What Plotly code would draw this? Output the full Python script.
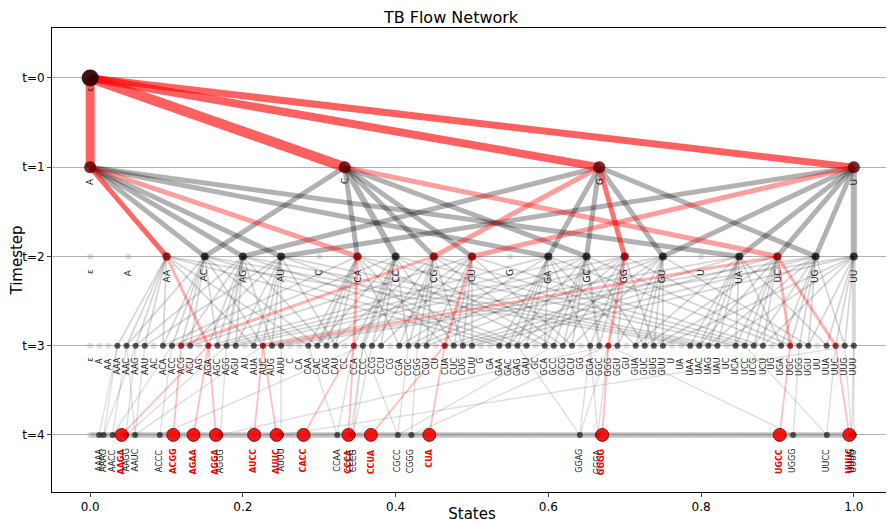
import itertools
import plotly.graph_objects as go

# ---------------- data ----------------
ALPHABET = ["A", "C", "G", "U"]
Y_TICK_VALUES = [0, 1, 2, 3, 4]
Y_TICK_LABELS = ["t=0", "t=1", "t=2", "t=3", "t=4"]
X_TICK_VALUES = [0.0, 0.2, 0.4, 0.6, 0.8, 1.0]
X_TICK_LABELS = ["0.0", "0.2", "0.4", "0.6", "0.8", "1.0"]


def states_up_to(n):
    out = [""]
    for length in range(1, n + 1):
        out += ["".join(p) for p in itertools.product(ALPHABET, repeat=length)]
    return sorted(out)


LAYER_STATES = {
    0: [""],
    1: ["A", "C", "G", "U"],
    2: states_up_to(2),
    3: states_up_to(3),
    4: states_up_to(4),
}

# t=0 -> t=1 flows (all sampled)
FLOW_01 = [("", "A", 9), ("", "C", 10), ("", "G", 8), ("", "U", 7)]

# t=1 -> t=2 gray flows
FLOW_12 = [
    ("A", "AC", 5), ("A", "AG", 5), ("A", "AU", 5), ("A", "GA", 5), ("A", "UA", 5),
    ("C", "AC", 5), ("C", "CA", 5), ("C", "CC", 6), ("C", "CG", 5), ("C", "CU", 5), ("C", "GC", 5),
    ("G", "AG", 5), ("G", "GA", 5), ("G", "GC", 5), ("G", "GU", 5), ("G", "UG", 5),
    ("U", "AU", 5), ("U", "GU", 5), ("U", "UA", 5), ("U", "UC", 5), ("U", "UG", 5), ("U", "UU", 6),
]

# t=2 -> t=3: each two-letter state grows by inserting one letter anywhere
PARENTS_23 = ["AA", "AC", "AG", "AU", "CA", "CC", "CG", "CU",
              "GA", "GC", "GG", "GU", "UA", "UC", "UG", "UU"]
THICK_23 = {("CA", "CCA"): 4, ("CC", "CCC"): 4, ("GG", "GGG"): 4, ("UU", "UUU"): 4,
            ("CA", "CAC"): 3, ("AG", "AGG"): 3, ("GC", "GGC"): 3}
WIDTH_23 = 1.8

# t=4 states reached by flow (parents: any one-letter deletion)
VISITED_4 = ["AAAA", "AAAG", "AACC", "AAGG", "AAUC", "ACCC", "AGGG", "AUUU",
             "CCAA", "CCCC", "CCCG", "CGCC", "CGGG", "GGAG", "GGGA", "UGGG",
             "UUCC", "UUUG", "UUUU"]
WIDTH_34 = 1.4

# sampled trajectories (red)
SAMPLED_PATHS = [
    ["", "A", "AA", "AGA", "AAGA"],
    ["", "G", "CG", "ACG", "ACGG"],
    ["", "A", "AA", "AGA", "AGAA"],
    ["", "A", "AA", "AGA", "AGGA"],
    ["", "C", "UC", "AUC", "AUCC"],
    ["", "C", "UC", "AUC", "AUUC"],
    ["", "A", "CA", "CCA", "CACC"],
    ["", "A", "CA", "CCA", "CCCA"],
    ["", "U", "CU", "CUA", "CCUA"],
    ["", "U", "CU", "CUA", "CUA"],
    ["", "G", "GG", "GGG", "GGGG"],
    ["", "C", "UC", "UGC", "UGCC"],
    ["", "C", "UC", "UUC", "UUUC"],
]
RED_WIDTH = {1: 5, 2: 3, 3: 1.8}
RED_ALPHA = {1: 0.38, 2: 0.3, 3: 0.25}
STRONG_RED = {(1, "A", "AA"): 0.6, (1, "G", "GG"): 0.55}

# ---------------- helpers ----------------
def xpos(t, s):
    states = LAYER_STATES[t]
    n = len(states)
    return 0.0 if n == 1 else states.index(s) / (n - 1)


def label(s):
    return "ε" if s == "" else s


def insert_children(s):
    out = []
    for i in range(len(s) + 1):
        for c in ALPHABET:
            ch = s[:i] + c + s[i:]
            if ch not in out:
                out.append(ch)
    return out


def deletion_parents(s):
    out = []
    for i in range(len(s)):
        p = s[:i] + s[i + 1:]
        if p not in out:
            out.append(p)
    return out


fig = go.Figure()


def add_edge(t, a, b, width, color):
    fig.add_trace(go.Scatter(
        x=[xpos(t, a), xpos(t + 1, b)], y=[t, t + 1], mode="lines",
        line=dict(color=color, width=width), hoverinfo="skip", showlegend=False))


red_edges = set()
for p in SAMPLED_PATHS:
    for t in range(4):
        red_edges.add((t, p[t], p[t + 1]))

# gray edges
for a, b, w in FLOW_12:
    add_edge(1, a, b, w, "rgba(0,0,0,0.3)")

edges23 = []
for a in PARENTS_23:
    for b in insert_children(a):
        if (2, a, b) in red_edges:
            continue
        edges23.append((a, b))
        add_edge(2, a, b, THICK_23.get((a, b), WIDTH_23), "rgba(0,0,0,0.16)")

edges34 = []
for b in VISITED_4:
    for a in deletion_parents(b):
        edges34.append((a, b))
        add_edge(3, a, b, WIDTH_34, "rgba(0,0,0,0.13)")

# red edges
for a, b, w in FLOW_01:
    add_edge(0, a, b, w, "rgba(255,0,0,0.62)")
for t, a, b in sorted(red_edges):
    if t == 0:
        continue
    alpha = STRONG_RED.get((t, a, b), RED_ALPHA[t])
    add_edge(t, a, b, RED_WIDTH[t], f"rgba(255,0,0,{alpha})")

# background nodes
for t in range(5):
    st = LAYER_STATES[t]
    fig.add_trace(go.Scatter(
        x=[xpos(t, s) for s in st], y=[t] * len(st), mode="markers",
        marker=dict(size=6, color="rgba(128,128,128,0.25)", line=dict(width=0)),
        hoverinfo="skip", showlegend=False))

# visited nodes
visited = {t: set() for t in range(5)}
visited[0].add("")
for a, b, w in FLOW_12:
    visited[1].add(a); visited[2].add(b)
for a, b in edges23:
    visited[3].add(b)
for a, b in edges34:
    visited[4].add(b)
for t, a, b in red_edges:
    visited[t].add(a); visited[t + 1].add(b)

terminals = {p[-1] for p in SAMPLED_PATHS}
red_nodes = {t: {p[t] for p in SAMPLED_PATHS} for t in range(5)}

size_by_t = {0: 17, 1: 12, 2: 8, 3: 6, 4: 6}
node_alpha = {0: 0.9, 1: 0.75, 2: 0.7, 3: 0.6, 4: 0.6}
red_alpha_n = {0: 0.15, 1: 0.3, 2: 0.45, 3: 0.45}
for t in range(5):
    st = [s for s in LAYER_STATES[t] if s in visited[t] and not (t == 4 and s in terminals)]
    fig.add_trace(go.Scatter(
        x=[xpos(t, s) for s in st], y=[t] * len(st), mode="markers",
        marker=dict(size=size_by_t[t], color=f"rgba(0,0,0,{node_alpha[t]})", line=dict(width=0)),
        hoverinfo="skip", showlegend=False))
    if t < 4:
        rs = [s for s in LAYER_STATES[t] if s in red_nodes[t]]
        fig.add_trace(go.Scatter(
            x=[xpos(t, s) for s in rs], y=[t] * len(rs), mode="markers",
            marker=dict(size=size_by_t[t], color=f"rgba(255,0,0,{red_alpha_n[t]})", line=dict(width=0)),
            hoverinfo="skip", showlegend=False))

term = [s for s in LAYER_STATES[4] if s in terminals]
fig.add_trace(go.Scatter(
    x=[xpos(4, s) for s in term], y=[4] * len(term), mode="markers",
    marker=dict(size=13, color="rgba(245,0,0,0.9)", line=dict(width=1, color="rgba(110,0,0,0.8)")),
    hoverinfo="skip", showlegend=False))

# labels
ann = []
label_font = {0: 9, 1: 9, 2: 9, 3: 8, 4: 8}
label_shift = {0: -7, 1: -9, 2: -11, 3: -10, 4: -12}
for t in range(5):
    for s in LAYER_STATES[t]:
        if t == 4 and s not in visited[4]:
            continue
        is_term = t == 4 and s in terminals
        txt = label(s)
        if is_term:
            txt = "<b>" + txt + "</b>"
        ann.append(dict(
            x=xpos(t, s), y=t, xref="x", yref="y", text=txt, showarrow=False,
            textangle=-90, xanchor="center", yanchor="top", yshift=label_shift[t],
            font=dict(size=label_font[t], color="red" if is_term else "#222",
                      family="DejaVu Sans")))

# The page body has an 8px margin, so the figure is sized to fit the window.
FIG_W, FIG_H = 886, 515
fig.update_layout(
    width=FIG_W, height=FIG_H,
    margin=dict(l=44, r=2, t=20, b=31, autoexpand=False),
    paper_bgcolor="white", plot_bgcolor="white",
    title=dict(text="TB Flow Network", x=0.5, xanchor="center",
               y=1 - 9 / FIG_H, yanchor="middle",
               font=dict(size=16, color="black", family="DejaVu Sans")),
    font=dict(family="DejaVu Sans", color="black"),
    annotations=ann,
    xaxis=dict(range=[-0.05, 1.05], tickvals=X_TICK_VALUES, ticktext=X_TICK_LABELS,
               showgrid=False, zeroline=False, showline=True, mirror=True, automargin=False,
               linecolor="black", linewidth=1, ticks="outside", ticklen=4,
               tickfont=dict(size=12), title=dict(text="States", font=dict(size=15), standoff=2)),
    yaxis=dict(range=[4.64, -0.56], tickvals=Y_TICK_VALUES, ticktext=Y_TICK_LABELS,
               showgrid=True, gridcolor="#b0b0b0", gridwidth=1, zeroline=False, automargin=False,
               showline=True, mirror=True, linecolor="black", linewidth=1,
               ticks="outside", ticklen=4, tickfont=dict(size=12),
               title=dict(text="Timestep", font=dict(size=15), standoff=0)),
)

fig.write_html("out.html")
